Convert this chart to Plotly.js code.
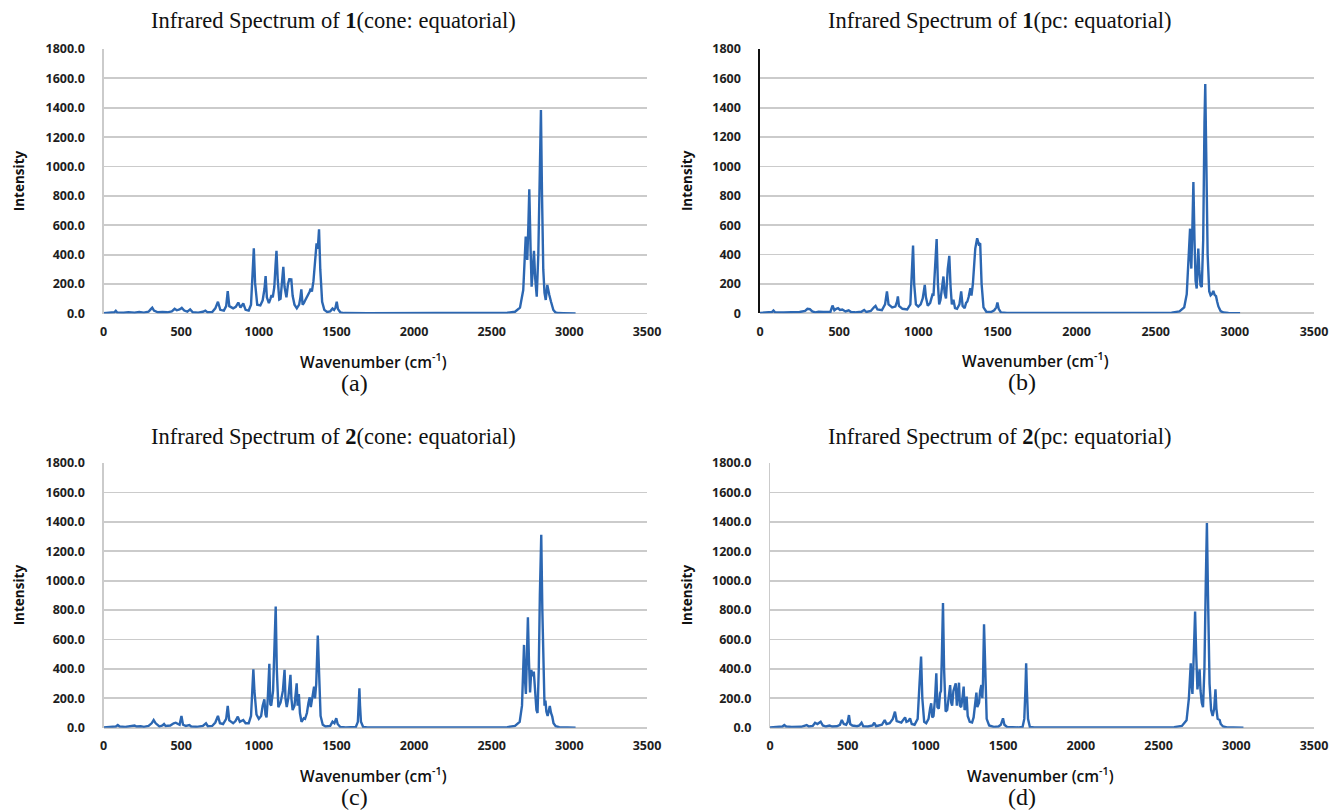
<!DOCTYPE html>
<html>
<head>
<meta charset="utf-8">
<script src="https://cdn.plot.ly/plotly-3.0.1.min.js"></script>
<style>html,body{margin:0;padding:0;background:#fff;}#chart{width:1331px;height:811px;}</style>
</head>
<body>
<div id="chart"></div>
<script>
// ---------- Data ----------
const panelTitles = [
  "Infrared Spectrum of <b>1</b>(cone: equatorial)",
  "Infrared Spectrum of <b>1</b>(pc: equatorial)",
  "Infrared Spectrum of <b>2</b>(cone: equatorial)",
  "Infrared Spectrum of <b>2</b>(pc: equatorial)"
];
const panelLetters = ["(a)", "(b)", "(c)", "(d)"];
const xTickValues = [0, 500, 1000, 1500, 2000, 2500, 3000, 3500];
const yTickValues = [0, 200, 400, 600, 800, 1000, 1200, 1400, 1600, 1800];

const wavenumberA = [0,40,70,79,88,130,160,200,230,260,290,305,314,325,350,380,410,440,458,472,490,504,520,540,558,575,610,640,656,670,700,720,737,752,775,790,800,810,835,852,868,882,900,915,935,950,960,968,976,990,1010,1025,1037,1044,1052,1065,1075,1082,1090,1100,1108,1114,1122,1132,1140,1150,1158,1166,1178,1188,1198,1204,1209,1218,1230,1245,1260,1268,1274,1282,1290,1299,1310,1320,1328,1334,1342,1352,1362,1372,1380,1388,1396,1408,1422,1440,1460,1475,1485,1494,1502,1510,1525,1550,1700,2000,2400,2600,2650,2682,2703,2712,2719,2724,2729,2736,2742,2750,2757,2765,2772,2780,2790,2800,2810,2817,2824,2832,2840,2848,2858,2864,2871,2882,2890,2897,2910,2929,2960,3000,3040];
const intensityA  = [2,3,8,18,6,5,8,5,10,6,12,30,40,20,8,10,8,15,32,22,28,38,20,12,28,8,6,12,20,8,10,35,80,25,20,50,152,50,35,45,75,40,68,25,20,60,250,443,210,60,55,90,170,255,110,70,100,125,110,180,330,427,230,95,100,220,318,180,110,200,239,220,239,120,60,35,60,110,164,60,70,90,110,135,150,170,150,220,380,477,440,573,300,80,25,10,15,34,25,40,80,30,8,3,2,2,2,5,12,40,160,420,523,420,364,600,845,450,183,300,427,240,115,400,1000,1385,800,300,140,92,194,150,126,80,50,24,8,3,2,1,0];

const wavenumberB = [0,50,75,85,95,150,200,250,285,300,315,330,350,370,400,430,445,458,470,482,493,505,520,540,560,575,600,640,658,672,700,720,730,742,770,790,802,812,835,855,866,871,878,900,930,950,960,967,974,985,1000,1015,1028,1035,1041,1048,1060,1075,1082,1089,1096,1106,1116,1124,1132,1140,1150,1159,1166,1175,1186,1196,1204,1212,1222,1232,1245,1260,1271,1280,1293,1302,1310,1318,1329,1336,1345,1360,1372,1382,1391,1400,1412,1430,1460,1480,1493,1500,1508,1522,1560,2000,2400,2600,2650,2680,2696,2710,2717,2721,2725,2732,2738,2745,2752,2759,2765,2769,2775,2783,2791,2800,2808,2813,2819,2828,2838,2847,2855,2864,2872,2881,2888,2896,2910,2928,2960,3000,3033];
const intensityB  = [2,3,8,18,6,5,6,8,15,30,28,12,6,10,8,12,10,52,20,30,34,22,25,12,20,8,6,10,22,8,15,40,50,25,20,60,148,60,40,45,80,114,50,30,25,60,300,461,200,60,45,60,100,170,193,110,50,70,110,125,120,300,505,200,60,90,200,250,140,100,300,391,180,60,91,35,30,60,148,50,35,70,80,110,170,120,200,440,511,470,477,200,40,10,8,20,40,73,30,5,2,1,1,4,12,40,130,480,576,380,304,600,893,500,220,168,300,440,300,190,179,500,1300,1562,1100,400,150,122,130,152,125,116,80,46,15,5,2,1,0];

const wavenumberC = [0,50,80,92,104,140,175,200,212,240,260,290,310,323,336,360,380,390,400,430,452,465,480,490,502,512,530,553,565,600,640,660,672,700,720,737,750,770,790,800,810,835,850,865,878,890,900,915,935,950,958,965,972,985,1000,1015,1025,1036,1043,1050,1058,1068,1074,1080,1092,1100,1109,1116,1126,1140,1155,1166,1172,1180,1190,1204,1210,1218,1230,1244,1250,1258,1265,1275,1282,1290,1298,1310,1320,1328,1335,1342,1350,1356,1362,1370,1380,1388,1398,1412,1430,1460,1475,1487,1499,1508,1525,1560,1600,1625,1638,1644,1648,1652,1658,1672,1700,2000,2400,2600,2650,2680,2695,2703,2708,2714,2720,2727,2733,2740,2747,2755,2763,2771,2780,2788,2795,2803,2810,2819,2826,2834,2840,2846,2852,2860,2868,2874,2882,2890,2898,2912,2935,2970,3040];
const intensityC  = [2,3,8,18,8,5,8,15,8,10,6,12,30,52,30,8,15,25,12,15,30,34,25,20,80,20,12,18,8,6,12,30,10,12,35,80,30,25,60,148,50,30,45,75,40,45,52,30,30,80,300,397,250,90,60,80,150,193,90,70,200,434,160,150,250,500,824,400,140,170,250,393,200,140,200,359,200,120,150,302,150,229,100,40,50,64,60,100,170,207,140,180,250,279,200,300,627,350,80,20,8,12,41,30,64,25,5,2,2,5,40,150,268,150,40,5,2,1,1,4,12,40,150,450,563,330,230,500,751,450,240,393,350,381,200,120,100,400,900,1312,800,300,150,184,110,80,120,148,100,75,30,10,3,1,0];

const wavenumberD = [0,50,80,92,104,140,180,200,236,250,275,290,305,315,326,340,360,383,400,430,450,462,475,490,500,508,516,530,560,575,589,600,630,660,671,682,700,720,738,750,770,790,804,815,830,845,855,869,878,890,901,912,930,950,962,972,980,992,1005,1020,1030,1037,1044,1052,1062,1070,1077,1086,1094,1100,1106,1113,1120,1130,1140,1150,1159,1166,1172,1180,1195,1202,1207,1216,1222,1230,1238,1246,1252,1260,1265,1272,1285,1300,1310,1320,1328,1334,1345,1352,1360,1366,1370,1377,1384,1394,1410,1440,1470,1485,1499,1508,1525,1560,1600,1625,1636,1643,1648,1653,1660,1672,1700,2000,2400,2600,2650,2680,2695,2702,2707,2712,2718,2725,2735,2742,2750,2758,2764,2770,2778,2786,2795,2804,2811,2818,2828,2838,2848,2858,2866,2872,2880,2893,2900,2915,2940,2980,3046];
const intensityD  = [2,3,8,18,8,5,8,6,18,8,12,34,25,30,41,15,8,15,8,10,20,52,25,20,40,86,25,15,10,15,34,10,8,15,34,10,15,20,52,25,30,60,109,45,40,35,50,70,40,45,64,25,20,60,300,484,200,40,30,60,130,166,70,80,200,370,140,130,234,250,500,847,400,110,120,200,290,170,150,250,302,150,200,306,150,140,200,279,120,140,211,80,40,35,70,150,238,140,170,250,290,200,300,704,350,60,15,5,8,20,64,20,5,2,2,5,60,250,438,250,60,5,2,1,1,4,12,50,200,400,438,300,230,450,790,500,260,340,397,250,170,140,400,1000,1392,900,300,120,80,130,261,130,60,52,25,8,2,1,0];

const wavenumbers = [wavenumberA, wavenumberB, wavenumberC, wavenumberD];
const intensities = [intensityA, intensityB, intensityC, intensityD];

// ---------- Layout geometry (pixels in a 1331 x 811 page) ----------
const W = 1331, H = 811;
const boxes = [
  {x0: 103.5, x1: 647, y0: 49,  y1: 313.5}, // (a)
  {x0: 760,   x1: 1314, y0: 49, y1: 313.2}, // (b)
  {x0: 103.5, x1: 647, y0: 463, y1: 727.7}, // (c)
  {x0: 770,   x1: 1314, y0: 463, y1: 727.7} // (d)
];
const lineColor = '#2c67b2';
const gridColor = '#cbcbcb';
const tickFont = {family: 'Open Sans, sans-serif', size: 12.5, color: '#1e1e1e', weight: 700};

const traces = [];
const layout = {
  width: W, height: H,
  margin: {l: 0, r: 0, t: 0, b: 0},
  paper_bgcolor: '#fff', plot_bgcolor: '#fff',
  showlegend: false,
  annotations: []
};

boxes.forEach((b, i) => {
  const s = i === 0 ? '' : String(i + 1);
  traces.push({
    x: wavenumbers[i], y: intensities[i],
    xaxis: 'x' + s, yaxis: 'y' + s,
    type: 'scatter', mode: 'lines',
    line: {color: lineColor, width: 2.4},
    hoverinfo: 'x+y'
  });
  layout['xaxis' + s] = {
    domain: [b.x0 / W, b.x1 / W],
    anchor: 'y' + s,
    range: [0, 3500],
    tickvals: xTickValues,
    ticktext: xTickValues.map(v => String(v)),
    showgrid: false, zeroline: false,
    showline: false,
    ticks: '', ticklabelstandoff: 9,
    tickfont: tickFont,
    fixedrange: true
  };
  layout['yaxis' + s] = {
    domain: [1 - b.y1 / H, 1 - b.y0 / H],
    anchor: 'x' + s,
    range: [0, 1800],
    tickvals: yTickValues,
    ticktext: yTickValues.map(v => i === 1 ? String(v) : v.toFixed(1)),
    showgrid: true, gridcolor: gridColor, gridwidth: 1.8,
    zeroline: true, zerolinecolor: gridColor, zerolinewidth: 1.8,
    showline: true,
    linecolor: i === 1 ? '#111' : gridColor,
    linewidth: i === 1 ? 1.6 : 1.2,
    ticks: '', ticklabelstandoff: 15,
    tickfont: tickFont,
    fixedrange: true
  };
  const cx = (b.x0 + b.x1) / 2;
  const cy = (b.y0 + b.y1) / 2;
  // panel title
  layout.annotations.push({
    text: panelTitles[i], xref: 'paper', yref: 'paper',
    x: (i % 2 === 0 ? 333.6 : 1000) / W, y: 1 - (i < 2 ? 21 : 436) / H,
    xanchor: 'center', yanchor: 'middle', showarrow: false,
    font: {family: 'Liberation Serif, serif', size: 22.5, color: '#111'}
  });
  // y axis title
  layout.annotations.push({
    text: 'Intensity', xref: 'paper', yref: 'paper',
    x: (i % 2 === 0 ? 19 : 687) / W, y: 1 - cy / H,
    xanchor: 'center', yanchor: 'middle', showarrow: false, textangle: -90,
    font: {family: 'Open Sans, sans-serif', size: 13.5, color: '#111', weight: 700}
  });
  // x axis title
  layout.annotations.push({
    text: 'Wavenumber (cm<sup>-1</sup>)', xref: 'paper', yref: 'paper',
    x: (cx - 2) / W, y: 1 - (b.y1 + 47) / H,
    xanchor: 'center', yanchor: 'middle', showarrow: false,
    font: {family: 'Open Sans, sans-serif', size: 15.5, color: '#111', weight: 600}
  });
  // panel letter
  layout.annotations.push({
    text: panelLetters[i], xref: 'paper', yref: 'paper',
    x: (i % 2 === 0 ? 354 : 1022) / W, y: 1 - (b.y1 + 69) / H,
    xanchor: 'center', yanchor: 'middle', showarrow: false,
    font: {family: 'Liberation Serif, serif', size: 24, color: '#111'}
  });
});

Plotly.newPlot('chart', traces, layout, {displayModeBar: false, staticPlot: true});
</script>
</body>
</html>
